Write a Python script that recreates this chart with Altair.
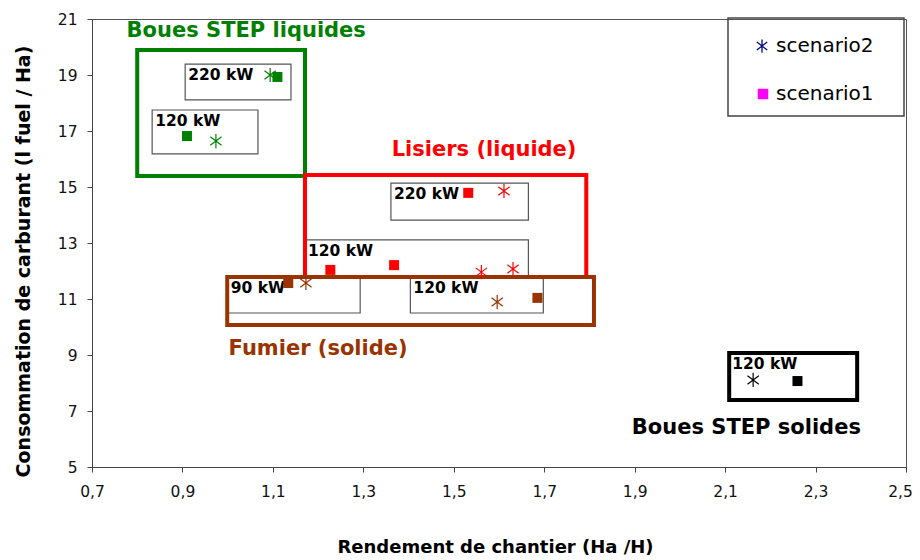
import altair as alt
import pandas as pd

# ---- data ----
pt_group = ["liq", "liq", "liq", "liq",
            "lis", "lis", "lis", "lis", "lis", "lis",
            "fum", "fum", "fum", "fum",
            "sol", "sol"]
pt_scen = ["scenario1", "scenario2", "scenario1", "scenario2",
           "scenario1", "scenario2", "scenario1", "scenario1", "scenario2", "scenario2",
           "scenario1", "scenario2", "scenario2", "scenario1",
           "scenario2", "scenario1"]
pt_x = [1.11, 1.094, 0.91, 0.974,
        1.532, 1.611, 1.227, 1.368, 1.561, 1.631,
        1.134, 1.173, 1.596, 1.685,
        2.162, 2.26]
pt_y = [18.93, 19.0, 16.82, 16.64,
        14.79, 14.86, 12.04, 12.21, 11.96, 12.07,
        11.57, 11.57, 10.89, 11.04,
        8.11, 8.07]

# group frames
grp_names = ["liq", "lis", "fum", "sol"]
grp_x1 = [0.80, 1.171, 0.999, 2.109]
grp_x2 = [1.171, 1.793, 1.81, 2.392]
grp_y1 = [19.89, 15.43, 11.79, 9.07]
grp_y2 = [15.39, 11.79, 10.07, 7.39]
grp_labels = ["Boues STEP liquides", "Lisiers (liquide)", "Fumier (solide)", "Boues STEP solides"]
grp_lab_x = [1.041, 1.567, 1.2, 2.147]
grp_lab_y = [20.57, 16.32, 9.2, 6.4]
grp_colors = ["#008000", "#FF0000", "#993300", "#000000"]

# power boxes
box_labels = ["220 kW", "120 kW", "220 kW", "120 kW", "90 kW", "120 kW", "120 kW"]
box_x1 = [0.906, 0.833, 1.361, 1.171, 1.0, 1.404, 2.109]
box_x2 = [1.14, 1.067, 1.665, 1.665, 1.293, 1.698, 2.392]
box_y1 = [19.39, 17.75, 15.14, 13.11, 11.79, 11.79, 9.07]
box_y2 = [18.11, 16.18, 13.82, 11.79, 10.5, 10.5, 7.39]

x_ticks = [0.7, 0.9, 1.1, 1.3, 1.5, 1.7, 1.9, 2.1, 2.3, 2.5]
y_ticks = [5, 7, 9, 11, 13, 15, 17, 19, 21]

pts = pd.DataFrame({"group": pt_group, "scenario": pt_scen, "x": pt_x, "y": pt_y})
grps = pd.DataFrame({"group": grp_names, "x1": grp_x1, "x2": grp_x2, "y1": grp_y1, "y2": grp_y2,
                     "label": grp_labels, "lx": grp_lab_x, "ly": grp_lab_y})
boxes = pd.DataFrame({"label": box_labels, "x1": box_x1, "x2": box_x2, "y1": box_y1, "y2": box_y2})

FONT = "DejaVu Sans"
STAR = "M0,-1L0,1M-0.8,-0.6L0.8,0.6M-0.8,0.6L0.8,-0.6"

xs = alt.Scale(domain=[0.7, 2.5], nice=False, zero=False)
ys = alt.Scale(domain=[5, 21], nice=False, zero=False)
cs = alt.Scale(domain=grp_names, range=grp_colors)

xaxis = alt.Axis(values=x_ticks, format=".1f", labelExpr="replace(datum.label, '.', ',')",
                 labelPadding=12, labelFlush=False, labelOverlap=False,
                 labelOffset={"condition": {"test": "datum.value >= 2.49", "value": -6}, "value": 0},
                 title="Rendement de chantier (Ha /H)", titleFontSize=18,
                 titleX=403, titleY=80)
yaxis = alt.Axis(values=y_ticks, labelPadding=10, labelFlush=False, labelOverlap=False,
                 title="Consommation de carburant (l fuel / Ha)", titleFontSize=19,
                 titleX=-69, titleY=242)

base_boxes = alt.Chart(boxes).mark_rect(filled=False, stroke="#555", strokeWidth=1.2).encode(
    x=alt.X("x1:Q", scale=xs, axis=xaxis), x2="x2:Q",
    y=alt.Y("y1:Q", scale=ys, axis=yaxis), y2="y2:Q")

box_text = alt.Chart(boxes).mark_text(align="left", baseline="top", dx=3, dy=4,
                                      font=FONT, fontSize=15.5, fontWeight="bold", color="#000").encode(
    x=alt.X("x1:Q", scale=xs, axis=xaxis), y=alt.Y("y1:Q", scale=ys, axis=yaxis), text="label:N")

grp_rect = alt.Chart(grps).mark_rect(filled=False, strokeWidth=4).encode(
    x=alt.X("x1:Q", scale=xs, axis=xaxis), x2="x2:Q",
    y=alt.Y("y1:Q", scale=ys, axis=yaxis), y2="y2:Q",
    stroke=alt.Stroke("group:N", scale=cs, legend=None))

grp_text = alt.Chart(grps).mark_text(align="center", baseline="middle", font=FONT,
                                     fontSize=21, fontWeight="bold").encode(
    x=alt.X("lx:Q", scale=xs, axis=xaxis), y=alt.Y("ly:Q", scale=ys, axis=yaxis), text="label:N",
    color=alt.Color("group:N", scale=cs, legend=None))

squares = alt.Chart(pts).transform_filter(alt.datum.scenario == "scenario1").mark_point(
    shape="square", filled=True, size=100, opacity=1).encode(
    x=alt.X("x:Q", scale=xs, axis=xaxis), y=alt.Y("y:Q", scale=ys, axis=yaxis),
    color=alt.Color("group:N", scale=cs, legend=None))

stars = alt.Chart(pts).transform_filter(alt.datum.scenario == "scenario2").mark_point(
    shape=STAR, filled=False, size=200, strokeWidth=1.2, opacity=1).encode(
    x=alt.X("x:Q", scale=xs, axis=xaxis), y=alt.Y("y:Q", scale=ys, axis=yaxis),
    color=alt.Color("group:N", scale=cs, legend=None))

# legend (manual)
one = alt.Data(values=[{"a": 1}])
leg_box = alt.Chart(one).mark_rect(filled=False, stroke="#444", strokeWidth=1.5).encode(
    x=alt.value(636), x2=alt.value(812), y=alt.value(-1), y2=alt.value(97))
leg_star = alt.Chart(one).mark_point(shape=STAR, filled=False, size=170, color="#000080",
                                      strokeWidth=1.3, opacity=1).encode(
    x=alt.value(670), y=alt.value(27))
leg_sq = alt.Chart(one).mark_point(shape="square", filled=True, size=110, color="#FF00FF",
                                    opacity=1).encode(x=alt.value(671), y=alt.value(75))
leg_t1 = alt.Chart(one).mark_text(align="left", baseline="middle", font=FONT, fontSize=20,
                                   color="#000", text="scenario2").encode(
    x=alt.value(684), y=alt.value(27))
leg_t2 = alt.Chart(one).mark_text(align="left", baseline="middle", font=FONT, fontSize=20,
                                   color="#000", text="scenario1").encode(
    x=alt.value(684), y=alt.value(75))

chart = alt.layer(base_boxes, box_text, grp_rect, grp_text, squares, stars,
                  leg_box, leg_star, leg_sq, leg_t1, leg_t2).properties(
    width=814, height=448,
    autosize=alt.AutoSizeParams(type="none"),
    padding={"left": 84, "top": 11, "right": 6, "bottom": 110},
).configure_view(stroke="#555", strokeWidth=1).configure_axis(
    grid=False, domainColor="#444", tickColor="#444", tickSize=5,
    labelFont=FONT, labelFontSize=15.5, labelColor="#111",
    titleFont=FONT, titleFontWeight="bold", titleColor="#000",
    titleBaseline="middle", titleAnchor="middle")

chart.save("out.html", embed_options={"renderer": "svg", "actions": False})
